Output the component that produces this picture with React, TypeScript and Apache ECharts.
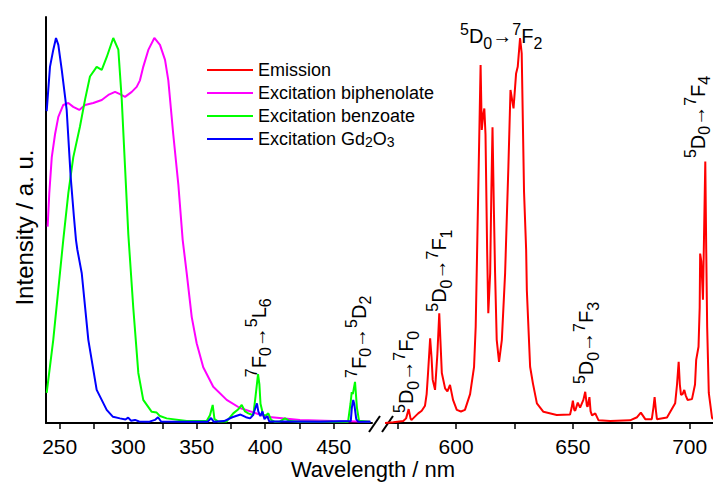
import React, { useEffect, useRef } from "react";
import * as echarts from "echarts";

const FONT = '"Liberation Sans", Arial, Helvetica, sans-serif';

const seriesNames = ["Emission", "Excitation biphenolate", "Excitation benzoate", "Excitation Gd2O3"];
const seriesColors = ["#ff0000", "#ff00ff", "#00ff00", "#0000ff"];

// Emission (right part of broken axis)
const emissionNm = [569.6, 573.1, 577.4, 578.6, 579.7, 580.5, 580.9, 581.6, 583.8, 585.3, 586.7, 587.4, 588.0, 588.9, 589.5, 590.0, 591.0, 592.0, 592.8, 593.9, 595.3, 596.3, 597.4, 598.7, 600.3, 602.1, 603.8, 606.0, 607.7, 608.4, 609.1, 610.5, 611.0, 611.6, 612.1, 612.6, 613.3, 613.8, 614.6, 615.1, 615.6, 616.2, 616.7, 617.4, 618.4, 619.6, 621.0, 622.4, 623.3, 624.6, 625.7, 626.4, 627.4, 628.1, 629.1, 630.0, 630.3, 631.7, 632.9, 634.6, 637.4, 643.1, 648.8, 649.5, 650.0, 650.6, 651.0, 652.1, 653.1, 654.5, 655.3, 656.0, 656.3, 657.1, 657.6, 658.2, 659.6, 661.0, 666.0, 674.5, 677.5, 679.1, 681.0, 683.8, 684.5, 685.0, 685.6, 686.0, 690.3, 693.8, 694.6, 695.3, 695.8, 696.3, 697.0, 697.7, 698.3, 699.1, 701.0, 702.3, 702.8, 703.8, 704.3, 704.5, 705.0, 705.7, 706.2, 706.7, 707.1, 707.5, 708.2, 709.6, 710.0];
const emissionInt = [0.0, 0.002, 0.005, 0.012, 0.036, 0.012, 0.008, 0.012, 0.025, 0.032, 0.045, 0.075, 0.13, 0.22, 0.17, 0.112, 0.086, 0.18, 0.285, 0.13, 0.09, 0.082, 0.099, 0.06, 0.034, 0.03, 0.034, 0.075, 0.146, 0.25, 0.475, 0.93, 0.761, 0.8, 0.817, 0.75, 0.45, 0.285, 0.39, 0.6, 0.768, 0.55, 0.39, 0.216, 0.159, 0.216, 0.39, 0.666, 0.865, 0.817, 0.908, 0.925, 1.0, 0.96, 0.6, 0.45, 0.345, 0.146, 0.103, 0.051, 0.029, 0.021, 0.022, 0.04, 0.058, 0.034, 0.032, 0.053, 0.04, 0.06, 0.081, 0.045, 0.042, 0.067, 0.03, 0.02, 0.025, 0.007, 0.005, 0.007, 0.015, 0.027, 0.01, 0.01, 0.04, 0.067, 0.03, 0.01, 0.014, 0.051, 0.1, 0.159, 0.1, 0.073, 0.075, 0.086, 0.072, 0.06, 0.062, 0.1, 0.164, 0.198, 0.3, 0.44, 0.42, 0.32, 0.5, 0.679, 0.45, 0.25, 0.078, 0.013, 0.01];

// Excitation biphenolate
const biphenolateNm = [241.2, 242.4, 244.2, 246.6, 249.0, 252.6, 256.3, 259.9, 264.3, 268.5, 274.5, 280.7, 285.5, 290.4, 294.0, 297.7, 302.6, 306.2, 308.6, 311.0, 314.7, 319.1, 323.2, 326.9, 329.3, 332.9, 336.6, 339.8, 342.7, 346.4, 350.0, 354.8, 362.1, 371.9, 381.6, 401.1, 425.4, 449.5, 469.2, 476.5];
const biphenolateInt = [0.51, 0.597, 0.69, 0.75, 0.795, 0.826, 0.831, 0.821, 0.813, 0.826, 0.831, 0.839, 0.852, 0.86, 0.854, 0.847, 0.86, 0.873, 0.89, 0.925, 0.969, 1.0, 0.982, 0.943, 0.89, 0.75, 0.62, 0.475, 0.39, 0.275, 0.207, 0.145, 0.094, 0.06, 0.039, 0.016, 0.008, 0.005, 0.004, 0.004];

// Excitation benzoate
const benzoateNm = [240.5, 245.3, 250.2, 252.6, 256.3, 259.9, 264.8, 268.5, 272.1, 277.0, 280.7, 284.3, 289.1, 292.8, 295.3, 297.7, 300.1, 303.7, 307.4, 311.0, 317.2, 320.8, 323.2, 328.1, 342.7, 357.3, 359.7, 361.7, 363.0, 365.6, 371.9, 376.7, 380.2, 382.9, 385.3, 387.7, 391.3, 393.0, 394.8, 395.8, 396.6, 398.6, 400.6, 402.3, 404.3, 407.2, 410.8, 414.5, 418.1, 425.4, 460.5, 462.3, 463.2, 464.0, 465.6, 467.0, 468.5, 476.5];
const benzoateInt = [0.078, 0.216, 0.39, 0.475, 0.597, 0.69, 0.77, 0.84, 0.9, 0.925, 0.917, 0.95, 1.0, 0.97, 0.84, 0.665, 0.49, 0.3, 0.13, 0.06, 0.029, 0.027, 0.018, 0.012, 0.005, 0.005, 0.02, 0.047, 0.01, 0.004, 0.004, 0.025, 0.035, 0.047, 0.03, 0.025, 0.02, 0.07, 0.127, 0.1, 0.05, 0.02, 0.02, 0.025, 0.008, 0.003, 0.004, 0.012, 0.005, 0.003, 0.003, 0.05, 0.08, 0.075, 0.107, 0.04, 0.006, 0.003];

// Excitation Gd2O3
const gdNm = [240.5, 242.9, 245.3, 247.3, 249.0, 251.5, 255.1, 258.0, 260.4, 261.9, 262.9, 266.1, 270.9, 277.0, 284.3, 288.9, 294.0, 298.0, 300.0, 302.0, 305.0, 308.0, 315.0, 319.5, 321.8, 324.0, 340.0, 358.0, 360.5, 362.5, 370.0, 376.0, 382.0, 386.0, 389.0, 391.0, 392.5, 394.0, 395.0, 396.5, 398.0, 399.5, 401.5, 403.0, 415.0, 440.0, 462.5, 463.3, 464.3, 465.0, 465.6, 466.5, 468.0, 477.0];
const gdInt = [0.81, 0.925, 0.969, 1.0, 0.982, 0.917, 0.813, 0.64, 0.535, 0.475, 0.45, 0.389, 0.216, 0.086, 0.034, 0.016, 0.012, 0.009, 0.014, 0.006, 0.008, 0.004, 0.003, 0.008, 0.015, 0.004, 0.003, 0.003, 0.013, 0.003, 0.005, 0.015, 0.022, 0.015, 0.012, 0.02, 0.035, 0.051, 0.03, 0.018, 0.03, 0.01, 0.018, 0.004, 0.004, 0.003, 0.005, 0.04, 0.06, 0.05, 0.035, 0.01, 0.003, 0.003];

const leftTicks = [250, 275, 300, 325, 350, 375, 400, 425, 450];
const leftLabels = [250, 300, 350, 400, 450];
const rightTicks = [575, 600, 625, 650, 675, 700];
const rightLabels = [600, 650, 700];

const annotationTexts = [
  "{sup|7}F{sub|0}→{sup|5}L{sub|6}",
  "{sup|7}F{sub|0}→{sup|5}D{sub|2}",
  "{sup|5}D{sub|0}→{sup|7}F{sub|0}",
  "{sup|5}D{sub|0}→{sup|7}F{sub|1}",
  "{sup|5}D{sub|0}→{sup|7}F{sub|2}",
  "{sup|5}D{sub|0}→{sup|7}F{sub|3}",
  "{sup|5}D{sub|0}→{sup|7}F{sub|4}",
];
const annotationGrid = [0, 0, 1, 1, 1, 1, 1];
const annotationNm = [395.2, 468.2, 578.6, 592.7, 601.7, 655.7, 703.4];
const annotationInt = [0.119, 0.117, 0.026, 0.289, 1.005, 0.101, 0.688];
const annotationVertical = [true, true, true, true, false, true, true];

const Y_MAX = 1.0545;

const zip = (a: number[], b: number[]) => a.map((v, i) => [v, b[i]]);

const annoRich = {
  sup: { fontSize: 16, fontFamily: FONT, verticalAlign: "top", lineHeight: 5.8, fill: "#000" },
  sub: { fontSize: 16, fontFamily: FONT, verticalAlign: "bottom", lineHeight: 18.2, fill: "#000" },
};

export default function App() {
  const ref = useRef<HTMLDivElement>(null);
  useEffect(() => {
    if (!ref.current) return;
    const chart = echarts.init(ref.current, undefined, { renderer: "svg" });
    const xAxisCommon = {
      type: "value",
      axisLine: { show: true, onZero: false, lineStyle: { color: "#000", width: 2 } },
      axisTick: { show: true, inside: false, length: 6, lineStyle: { color: "#000", width: 1.5 } },
      axisLabel: { fontSize: 21, fontFamily: FONT, color: "#000", margin: 13 },
      splitLine: { show: false },
    };
    const option: any = {
      animation: false,
      backgroundColor: "#fff",
      grid: [
        { left: 46, right: 341, top: 17, bottom: 59 },
        { left: 386, right: 0, top: 17, bottom: 59 },
      ],
      xAxis: [
        {
          ...xAxisCommon,
          gridIndex: 0,
          min: 240,
          max: 478,
          axisTick: { ...xAxisCommon.axisTick, customValues: leftTicks },
          axisLabel: { ...xAxisCommon.axisLabel, customValues: leftLabels },
        },
        {
          ...xAxisCommon,
          gridIndex: 1,
          min: 570,
          max: 710,
          axisTick: { ...xAxisCommon.axisTick, customValues: rightTicks },
          axisLabel: { ...xAxisCommon.axisLabel, customValues: rightLabels },
        },
      ],
      yAxis: [
        {
          type: "value",
          gridIndex: 0,
          min: 0,
          max: Y_MAX,
          name: "Intensity / a. u.",
          nameLocation: "middle",
          nameRotate: 90,
          nameGap: 10,
          nameTextStyle: { fontSize: 24, fontFamily: FONT, color: "#000", padding: [0, 15, 0, 0] },
          axisLine: { show: true, lineStyle: { color: "#000", width: 2 } },
          axisTick: { show: false },
          axisLabel: { show: false },
          splitLine: { show: false },
        },
        {
          type: "value",
          gridIndex: 1,
          min: 0,
          max: Y_MAX,
          show: false,
          splitLine: { show: false },
        },
      ],
      legend: {
        orient: "vertical",
        left: 207,
        top: 60,
        padding: 0,
        itemGap: 3,
        itemWidth: 46,
        itemHeight: 2,
        icon: "rect",
        selectedMode: false,
        data: seriesNames,
        formatter: (n: string) => (n === "Excitation Gd2O3" ? "Excitation Gd{sub|2}O{sub|3}" : n),
        textStyle: {
          fontSize: 18,
          fontFamily: FONT,
          color: "#000",
          lineHeight: 20,
          rich: {
            sub: { fontSize: 14, fontFamily: FONT, color: "#000", verticalAlign: "bottom", lineHeight: 2 },
          },
        },
      },
      series: [
        { data: zip(emissionNm, emissionInt), xAxisIndex: 1, yAxisIndex: 1 },
        { data: zip(biphenolateNm, biphenolateInt), xAxisIndex: 0, yAxisIndex: 0 },
        { data: zip(benzoateNm, benzoateInt), xAxisIndex: 0, yAxisIndex: 0 },
        { data: zip(gdNm, gdInt), xAxisIndex: 0, yAxisIndex: 0 },
      ].map((s, i) => ({
        ...s,
        name: seriesNames[i],
        type: "line",
        symbol: "none",
        showSymbol: false,
        color: seriesColors[i],
        lineStyle: { color: seriesColors[i], width: 2 },
        silent: true,
        clip: true,
      })),
    };
    chart.setOption(option);

    const graphics: any[] = [];
    annotationTexts.forEach((t, i) => {
      const g = annotationGrid[i];
      const p = chart.convertToPixel({ xAxisIndex: g, yAxisIndex: g } as any, [annotationNm[i], annotationInt[i]]) as number[];
      graphics.push({
        type: "text",
        x: p[0],
        y: p[1],
        rotation: annotationVertical[i] ? Math.PI / 2 : 0,
        silent: true,
        style: {
          text: t,
          rich: annoRich,
          fontSize: 20,
          fontFamily: FONT,
          fill: "#000",
          lineHeight: 30,
          align: "left",
          verticalAlign: "middle",
        },
      });
    });
    // x-axis title centred under the broken axis
    const leftEnd = chart.convertToPixel({ xAxisIndex: 0 } as any, 478) as number;
    const rightStart = chart.convertToPixel({ xAxisIndex: 1 } as any, 570) as number;
    graphics.push({
      type: "text",
      x: (leftEnd + rightStart) / 2 - 6,
      y: 469,
      silent: true,
      style: { text: "Wavelength / nm", fontSize: 22, fontFamily: FONT, fill: "#000", align: "center", verticalAlign: "middle" },
    });
    // axis break marks
    const axisY = 423;
    [leftEnd - 3, leftEnd + 10].forEach((bx) => {
      graphics.push({
        type: "line",
        silent: true,
        shape: { x1: bx, y1: axisY + 9, x2: bx + 11, y2: axisY - 7 },
        style: { stroke: "#000", lineWidth: 2 },
      });
    });
    chart.setOption({ graphic: graphics });

    return () => chart.dispose();
  }, []);
  return <div ref={ref} style={{ position: "absolute", left: 0, top: 0, width: 713, height: 482 }} />;
}
